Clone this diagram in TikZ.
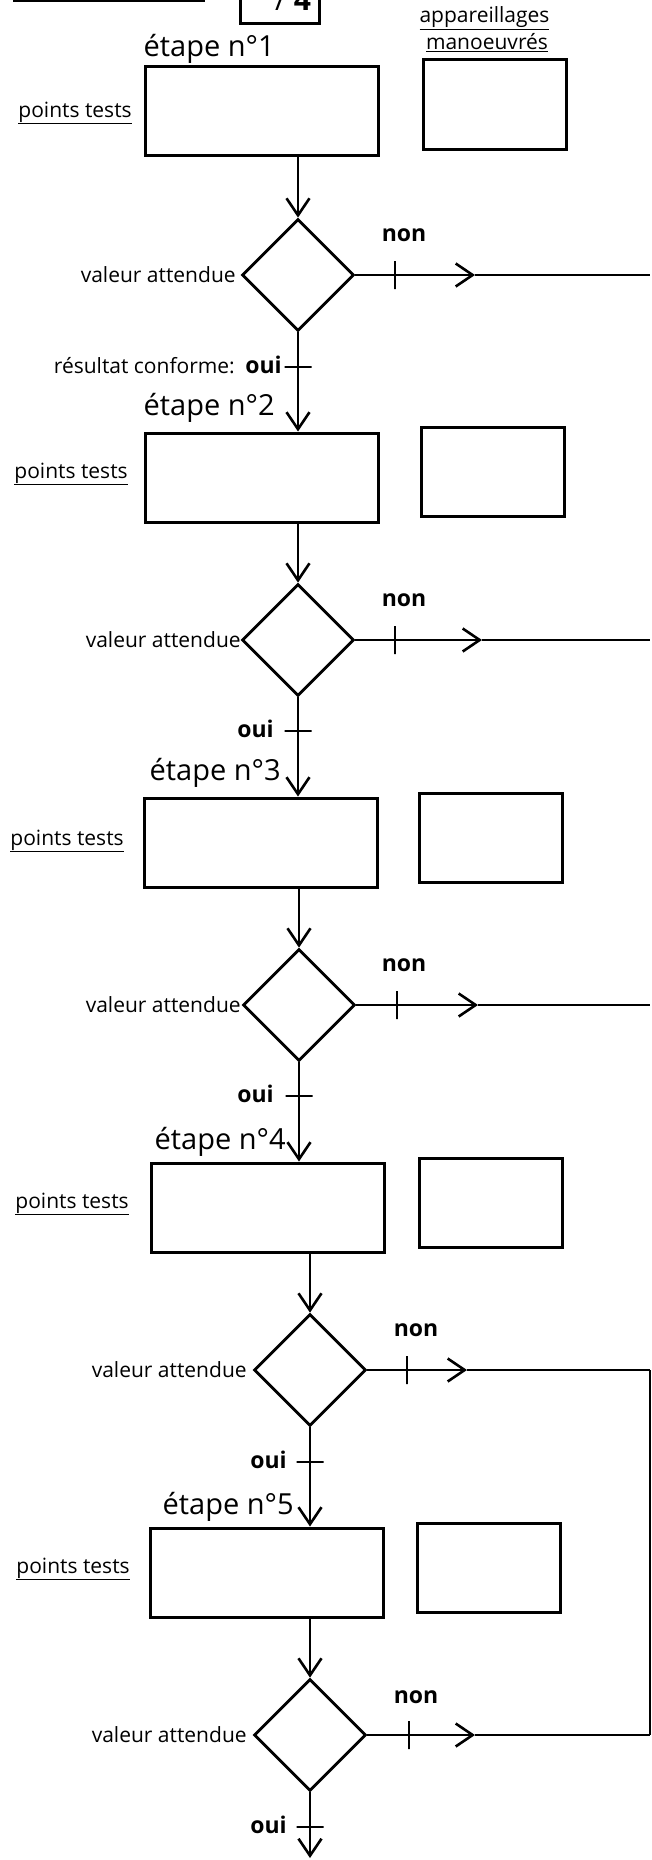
\documentclass[tikz,border=0pt]{standalone}
\usepackage{fontspec}
\setmainfont{Open Sans}
\usetikzlibrary{arrows.meta,shapes.geometric}
\tikzset{
    PT/.style ={rectangle,minimum width=233pt,minimum height=89pt,inner sep=0pt,draw,line width=3pt},
    AP/.style ={rectangle,minimum width=143pt,minimum height=89pt,inner sep=0pt,draw,line width=3pt},
    VA/.style ={diamond,minimum width=112pt,minimum height=112pt,inner sep=0pt,draw,line width=2.8pt},
    TV/.style ={rectangle,minimum width=0pt,minimum height=28pt,inner sep=0pt,draw},
    TH/.style ={rectangle,minimum width=27pt,minimum height=0pt,inner sep=0pt,draw},
    LB/.style ={inner sep=0pt,font=\fontsize{21}{24}\selectfont},
    ET/.style ={inner sep=0pt,anchor=base east,font=\fontsize{29}{31}\selectfont},
    NO/.style ={inner sep=0pt,font=\bfseries\fontsize{23}{26}\selectfont}}
\begin{document}
\begin{tikzpicture}[x=1pt,y=-1pt,line width=2.6pt,>={Straight Barb[length=17pt,width=23pt]}]
    \useasboundingbox (0,0) rectangle (651,1860);
    \clip (0,0) rectangle (651,1860);
    % en-tete
    \draw[line width=2.8pt] (13,1) -- (205,1);
    \node[AP,minimum width=79pt,minimum height=68pt] (pg) at(279.5,-10){};
    \node[anchor=base,font=\fontsize{30}{30}\selectfont] at(293,11){/ \textbf{4}};
    \node[LB,anchor=base] at(484.5,23){\underline{appareillages}};
    \node[LB,anchor=base] at(487,50){\underline{manoeuvrés}};
    % etape 1
    \node[PT] (b1) at(261.5,111){};
    \node[AP] (r1) at(495,104.5){};
    \node[ET] at(276,57){étape n°1};
    \node[LB,anchor=base east] at(133,117){\underline{points tests}};
    \node[VA] (d1) at(298,275){};
    \node[LB,anchor=east] at(237,275){valeur attendue};
    \node[NO] at(404,235){non};
    \coordinate (a1) at(475,275);
    \coordinate (e1) at(650,275);
    \draw[->] (b1.south -| d1.north) -- (d1.north);
    \draw[->] (d1.east) -- (a1);
    \draw (a1) -- (e1);
    \node[TV] at(395,275){};
    % etape 2
    \node[PT] (b2) at(261.5,477.5){};
    \node[AP] (r2) at(493,472){};
    \node[ET] at(276,415){étape n°2};
    \node[LB,anchor=base east] at(129,478){\underline{points tests}};
    \node[VA] (d2) at(298,640){};
    \node[LB,anchor=east] at(242,640){valeur attendue};
    \node[NO] at(404,600){non};
    \coordinate (a2) at(482,640);
    \coordinate (e2) at(650,640);
    \draw[->] (d1.south) -- (d1.south |- b2.north);
    \node[TH] at(298,367){};
    \node[LB,anchor=east] at(283,365){résultat conforme:\enspace{\bfseries\fontsize{23}{26}\selectfont oui}};
    \draw[->] (b2.south -| d2.north) -- (d2.north);
    \draw[->] (d2.east) -- (a2);
    \draw (a2) -- (e2);
    \node[TV] at(395,640){};
    % etape 3
    \node[PT] (b3) at(260.5,842.5){};
    \node[AP] (r3) at(491,837.5){};
    \node[ET] at(282,780){étape n°3};
    \node[LB,anchor=base east] at(125,845){\underline{points tests}};
    \node[VA] (d3) at(299,1005){};
    \node[LB,anchor=east] at(242,1005){valeur attendue};
    \node[NO] at(404,965){non};
    \coordinate (a3) at(478,1005);
    \coordinate (e3) at(650,1005);
    \draw[->] (d2.south) -- (d2.south |- b3.north);
    \node[TH] at(298,731){};
    \node[NO,anchor=east] at(275,729){oui};
    \draw[->] (b3.south -| d3.north) -- (d3.north);
    \draw[->] (d3.east) -- (a3);
    \draw (a3) -- (e3);
    \node[TV] at(397,1005){};
    % etape 4
    \node[PT] (b4) at(268,1207.5){};
    \node[AP] (r4) at(491,1202.5){};
    \node[ET] at(287,1149){étape n°4};
    \node[LB,anchor=base east] at(130,1208){\underline{points tests}};
    \node[VA] (d4) at(310,1370){};
    \node[LB,anchor=east] at(248,1370){valeur attendue};
    \node[NO] at(416,1330){non};
    \coordinate (a4) at(467,1370);
    \coordinate (e4) at(650,1370);
    \draw[->] (d3.south) -- (d3.south |- b4.north);
    \node[TH] at(299,1096){};
    \node[NO,anchor=east] at(275,1094){oui};
    \draw[->] (b4.south -| d4.north) -- (d4.north);
    \draw[->] (d4.east) -- (a4);
    \draw (a4) -- (e4);
    \node[TV] at(407,1370){};
    % etape 5
    \node[PT] (b5) at(266.5,1572.5){};
    \node[AP] (r5) at(489,1568){};
    \node[ET] at(295,1514){étape n°5};
    \node[LB,anchor=base east] at(131,1573){\underline{points tests}};
    \node[VA] (d5) at(310,1735){};
    \node[LB,anchor=east] at(248,1735){valeur attendue};
    \node[NO] at(416,1697){non};
    \coordinate (a5) at(475,1735);
    \coordinate (e5) at(650,1735);
    \coordinate (f5) at(310,1858);
    \draw[->] (d4.south) -- (d4.south |- b5.north);
    \node[TH] at(310,1462){};
    \node[NO,anchor=east] at(288,1460){oui};
    \draw[->] (b5.south -| d5.north) -- (d5.north);
    \draw[->] (d5.east) -- (a5);
    \draw (a5) -- (e5);
    \node[TV] at(409,1735){};
    \draw (e4) -- (e5);
    \draw[->] (d5.south) -- (f5);
    \node[TH] at(310,1827){};
    \node[NO,anchor=east] at(288,1825){oui};
\end{tikzpicture}
\end{document}
